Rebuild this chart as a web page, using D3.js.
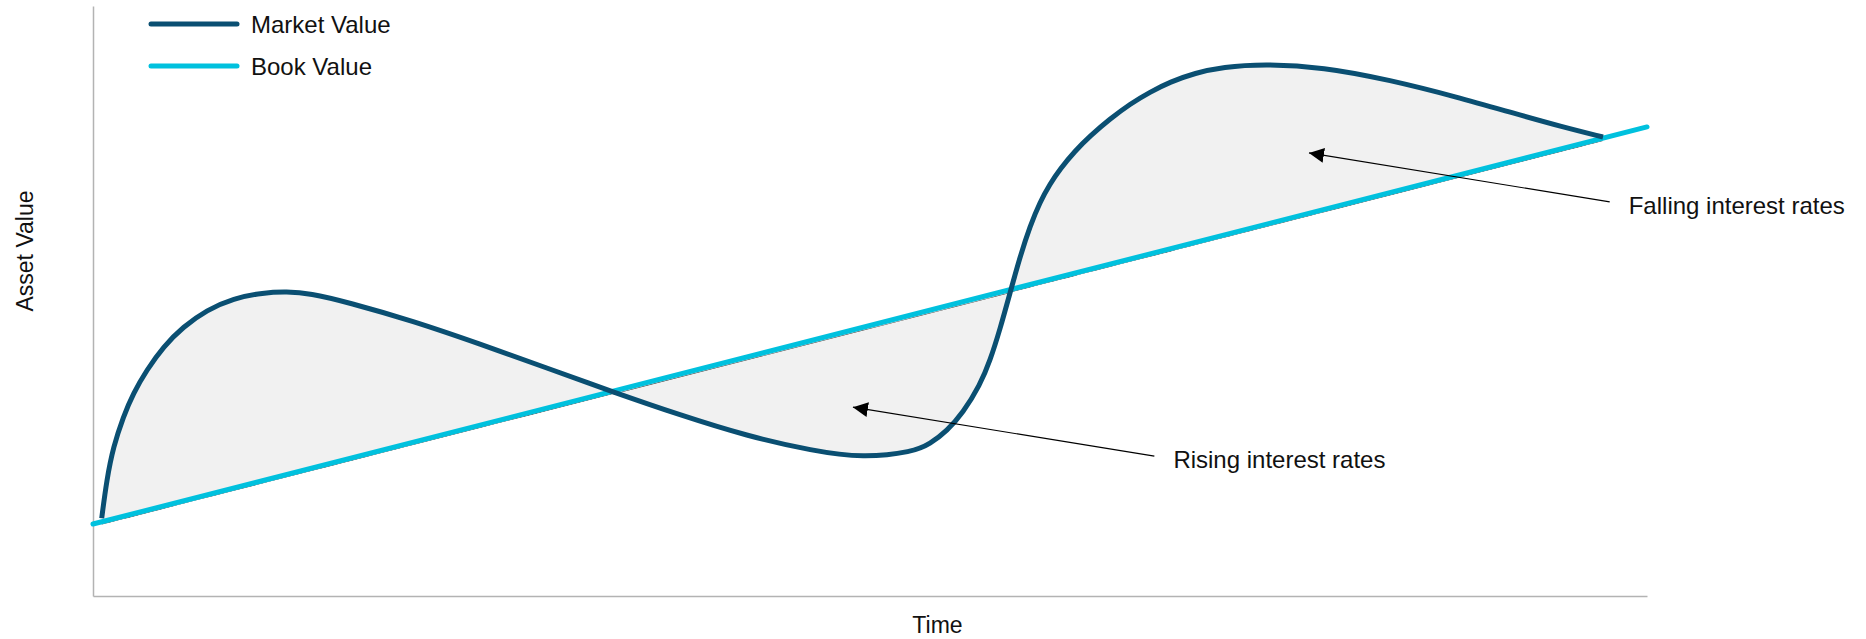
<!DOCTYPE html>
<html>
<head>
<meta charset="utf-8">
<script src="https://cdn.jsdelivr.net/npm/d3@7"></script>
<style>
  html, body { margin: 0; padding: 0; background: #fff; }
  svg { display: block; font-family: "Liberation Sans", Arial, sans-serif; }
</style>
</head>
<body>
<svg id="chart" width="1866" height="639"></svg>
<script>
// ---- data (time and value in abstract units 0..100) ----
const seriesNames = ["Market Value", "Book Value"];
const bookTime  = [0, 100];
const bookValue = [12.2, 79.5];
const marketTime  = [0.56, 0.88, 1.31, 1.95, 2.59, 3.46, 4.52, 5.81, 7.32, 9.03, 10.96, 12.46, 13.96, 16.34, 20.59, 24.90, 29.21, 33.46, 37.77, 42.08, 46.33, 49.55, 52.77, 53.86, 54.95, 55.98, 57.08, 57.72, 58.37, 59.01, 59.65, 60.30, 60.94, 61.58, 62.23, 63.19, 64.16, 65.44, 66.73, 68.02, 69.31, 70.91, 72.72, 75.29, 79.15, 83.46, 87.77, 91.38, 94.59, 97.17];
const marketValue = [13.17, 19.66, 25.31, 30.39, 34.36, 38.31, 42.25, 45.64, 48.47, 50.46, 51.41, 51.58, 51.31, 49.83, 46.61, 42.71, 38.64, 34.58, 30.68, 27.12, 24.58, 23.39, 24.41, 25.76, 27.97, 31.02, 35.76, 39.83, 45.25, 51.36, 57.46, 62.71, 66.78, 69.83, 72.37, 75.42, 77.97, 80.85, 83.39, 85.42, 87.12, 88.64, 89.66, 90.17, 89.66, 87.46, 84.58, 81.86, 79.49, 77.80];
const annotationLabels = ["Rising interest rates", "Falling interest rates"];
const annotationTipTime   = [48.9, 78.25];
const annotationTipValue  = [32.0, 75.1];
const annotationTailTime  = [68.3, 97.6];
const annotationTailValue = [23.7, 66.8];
const axisTitles = ["Time", "Asset Value"];

// ---- styles ----
const marketColor = "#0a4f72";
const bookColor = "#00c1de";
const fillColor = "#f1f1f1";
const axisColor = "#b3b3b3";

const svg = d3.select("#chart");
const x = d3.scaleLinear().domain([0, 100]).range([93, 1647]);
const y = d3.scaleLinear().domain([0, 100]).range([596, 6]);

const market = marketTime.map((t, i) => ({ t, v: marketValue[i] }));
const book = bookTime.map((t, i) => ({ t, v: bookValue[i] }));
const bookAt = d3.scaleLinear().domain(bookTime).range(bookValue);

const defs = svg.append("defs");
defs.append("marker")
  .attr("id", "arrow")
  .attr("viewBox", "0 0 10 10")
  .attr("refX", 10).attr("refY", 5)
  .attr("markerWidth", 15).attr("markerHeight", 15)
  .attr("markerUnits", "userSpaceOnUse")
  .attr("orient", "auto-start-reverse")
  .append("path")
  .attr("d", "M0,0 L10,5 L0,10 Z")
  .attr("fill", "#000");

const curve = d3.curveBasis;

// filled area between market and book
const area = d3.area()
  .x(d => x(d.t))
  .y0(d => y(bookAt(d.t)))
  .y1(d => y(d.v))
  .curve(curve);

defs.append("clipPath").attr("id", "areaClip")
  .append("path").attr("d", area(market));

svg.append("path")
  .attr("d", area(market))
  .attr("fill", fillColor);

// axes
const xAxis = d3.axisBottom(x).ticks(0).tickSize(0).tickSizeOuter(0);
const yAxis = d3.axisLeft(y).ticks(0).tickSize(0).tickSizeOuter(0);
svg.append("g").attr("transform", `translate(0,${y(0)})`).call(xAxis)
  .call(g => g.select(".domain").attr("stroke", axisColor).attr("stroke-width", 1.5));
svg.append("g").attr("transform", `translate(${x(0)},0)`).call(yAxis)
  .call(g => g.select(".domain").attr("stroke", axisColor).attr("stroke-width", 1.5));

const line = d3.line().x(d => x(d.t)).y(d => y(d.v)).curve(curve);

// thin edge of the fill beneath the book line
svg.append("path")
  .attr("d", line(book))
  .attr("transform", "translate(0,2.8)")
  .attr("clip-path", "url(#areaClip)")
  .attr("fill", "none")
  .attr("stroke", "#3a3a3a")
  .attr("stroke-width", 1);

// book value line
svg.append("path")
  .attr("d", line(book))
  .attr("fill", "none")
  .attr("stroke", bookColor)
  .attr("stroke-width", 5)
  .attr("stroke-linecap", "round");

// market value line
svg.append("path")
  .attr("d", line(market))
  .attr("fill", "none")
  .attr("stroke", marketColor)
  .attr("stroke-width", 5)
  .attr("stroke-linecap", "butt");

// annotations
annotationLabels.forEach((label, i) => {
  const x1 = x(annotationTailTime[i]), y1 = y(annotationTailValue[i]);
  const x2 = x(annotationTipTime[i]), y2 = y(annotationTipValue[i]);
  svg.append("line")
    .attr("x1", x1).attr("y1", y1).attr("x2", x2).attr("y2", y2)
    .attr("stroke", "#000").attr("stroke-width", 1.2)
    .attr("marker-end", "url(#arrow)");
  svg.append("text")
    .attr("x", x1 + 19).attr("y", y1 + 12)
    .attr("font-size", 24).attr("fill", "#111")
    .text(label);
});

// legend
const legendColors = [marketColor, bookColor];
const legendY = [24, 66];
seriesNames.forEach((name, i) => {
  svg.append("line")
    .attr("x1", 151).attr("x2", 237)
    .attr("y1", legendY[i]).attr("y2", legendY[i])
    .attr("stroke", legendColors[i]).attr("stroke-width", 5)
    .attr("stroke-linecap", "round");
  svg.append("text")
    .attr("x", 251).attr("y", legendY[i] + 8.5)
    .attr("font-size", 24).attr("fill", "#111")
    .text(name);
});

// axis titles
svg.append("text")
  .attr("x", 937.5).attr("y", 633)
  .attr("text-anchor", "middle")
  .attr("font-size", 23).attr("fill", "#111")
  .text(axisTitles[0]);
svg.append("text")
  .attr("transform", "translate(33,251) rotate(-90)")
  .attr("text-anchor", "middle")
  .attr("font-size", 23).attr("fill", "#111")
  .text(axisTitles[1]);
</script>
</body>
</html>
